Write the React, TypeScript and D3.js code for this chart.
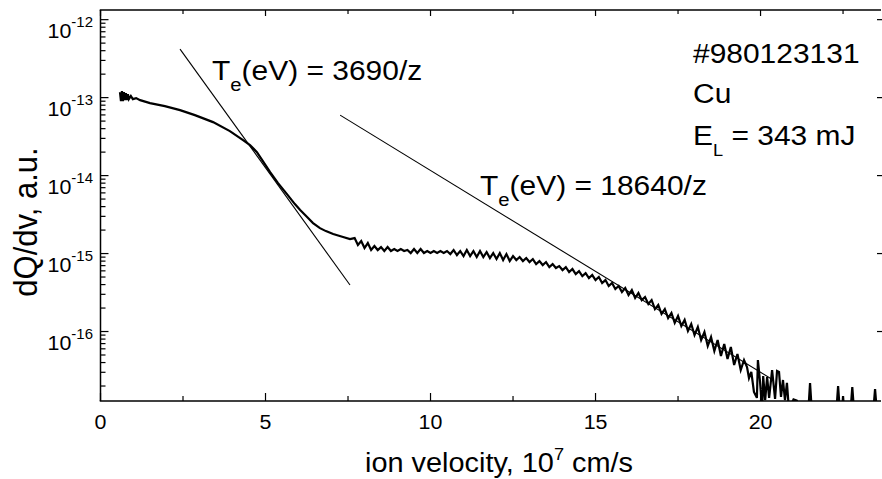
import React from "react";
import * as d3 from "d3";

// ion velocity, 10^7 cm/s
const velocity = [
  0.59, 0.62, 0.65, 0.68, 0.71, 0.74, 0.77, 0.8, 0.83, 0.86, 0.92, 0.98, 1.08, 1.2, 1.5, 1.95,
  2.41, 2.86, 3.41, 3.92, 4.32, 4.53, 4.74, 4.92, 5.14, 5.38, 5.65, 5.89, 6.05, 6.26, 6.44, 6.65,
  6.83, 7.05, 7.35, 7.56,
  7.7, 7.8, 7.9, 8.0, 8.1, 8.2, 8.3, 8.4, 8.5, 8.6, 8.7, 8.8, 8.9, 9.0, 9.1, 9.2, 9.3, 9.4, 9.5,
  9.6, 9.7, 9.8, 9.9, 10.0, 10.1, 10.2, 10.3, 10.4, 10.5, 10.6, 10.7, 10.8, 10.9, 11.0, 11.1, 11.2,
  11.3, 11.4, 11.5, 11.6, 11.7, 11.8, 11.9, 12.0, 12.1, 12.2, 12.3, 12.4, 12.5, 12.6, 12.7, 12.8,
  12.9, 13.0, 13.1, 13.2, 13.3, 13.4, 13.5, 13.6, 13.7, 13.8, 13.9, 14.0, 14.1, 14.2, 14.3, 14.4,
  14.5, 14.6, 14.7, 14.8, 14.9, 15.0, 15.1, 15.2, 15.3, 15.4, 15.5, 15.6, 15.7, 15.8, 15.9, 16.0,
  16.1, 16.2, 16.3, 16.4, 16.5, 16.6, 16.7, 16.8, 16.9, 17.0, 17.1, 17.2, 17.3, 17.4, 17.5, 17.6,
  17.7, 17.8, 17.9, 18.0, 18.1, 18.2, 18.3, 18.4, 18.5, 18.6, 18.7, 18.8, 18.9, 19.0, 19.1, 19.2,
  19.3, 19.4, 19.5,
  19.59, 19.65, 19.72, 19.8, 19.89, 19.92, 19.98, 20.05, 20.08, 20.14, 20.2, 20.26, 20.35, 20.44,
  20.5, 20.56, 20.62, 20.68, 20.74, 20.8, 20.86, 21.0, 21.1, 21.2,
  21.45, 21.5, 21.55, 22.3, 22.35, 22.4, 22.47, 22.5, 22.53, 22.73, 22.78, 22.83, 23.42, 23.47,
  23.52, 23.65,
];

// dQ/dv, a.u.
const dQdv = [
  1.18e-13, 9.02e-14, 1.21e-13, 9.02e-14, 1.18e-13, 9.29e-14, 1.14e-13, 9.29e-14, 1.11e-13,
  9.57e-14, 1.05e-13, 9.57e-14, 9.85e-14, 9.29e-14, 8.5e-14, 7.78e-14,
  6.91e-14, 5.96e-14, 4.85e-14, 3.72e-14, 2.85e-14, 2.46e-14, 2.0e-14, 1.53e-14, 1.11e-14, 8.01e-15,
  5.79e-15, 4.31e-15, 3.61e-15, 2.94e-15, 2.46e-15, 2.12e-15, 1.94e-15, 1.78e-15, 1.63e-15, 1.53e-15,
  1.58e-15, 1.285e-15, 1.446e-15, 1.176e-15, 1.363e-15, 1.109e-15, 1.248e-15, 1.109e-15, 1.211e-15,
  1.077e-15, 1.211e-15, 1.077e-15, 1.142e-15, 1.077e-15, 1.142e-15, 1.077e-15, 1.109e-15, 1.015e-15,
  1.142e-15, 1.015e-15, 1.142e-15, 1.015e-15, 1.077e-15, 1.015e-15, 1.077e-15, 1.015e-15, 1.077e-15,
  1.015e-15, 1.077e-15, 9.85e-16, 1.109e-15, 9.57e-16, 1.077e-15, 9.29e-16, 1.109e-15, 9.29e-16,
  1.077e-15, 9.02e-16, 1.077e-15, 9.02e-16, 1.045e-15, 8.76e-16, 1.015e-15, 8.5e-16, 1.015e-15,
  8.25e-16, 9.85e-16, 8.01e-16, 9.29e-16, 8.25e-16, 9.02e-16, 8.01e-16, 8.76e-16, 7.78e-16, 8.5e-16,
  7.33e-16, 8.01e-16, 7.12e-16, 7.78e-16, 6.71e-16, 7.33e-16, 6.52e-16, 6.91e-16, 6.14e-16, 6.71e-16,
  5.79e-16, 6.33e-16, 5.46e-16, 5.96e-16, 5.15e-16, 5.62e-16, 4.85e-16, 5.3e-16, 4.57e-16, 5.0e-16,
  4.19e-16, 4.57e-16, 3.83e-16, 4.19e-16, 3.51e-16, 3.83e-16, 3.21e-16, 3.61e-16, 2.94e-16, 3.4e-16,
  2.69e-16, 3.12e-16, 2.53e-16, 2.77e-16, 2.25e-16, 2.53e-16, 1.94e-16, 2.19e-16, 1.68e-16, 1.94e-16,
  1.49e-16, 1.73e-16, 1.29e-16, 1.58e-16, 1.18e-16, 1.41e-16, 1.015e-16, 1.25e-16, 9.02e-17,
  1.14e-16, 7.78e-17, 9.85e-17, 6.52e-17, 8.5e-17, 5.62e-17, 7.78e-17, 4.85e-17, 6.91e-17, 4.44e-17,
  6.33e-17, 3.72e-17, 5.15e-17, 3.21e-17, 4.31e-17,
  3.51e-17, 2.53e-17, 3.03e-17, 1.68e-17, 1.41e-17, 4.31e-17, 2.39e-17, 1.0e-17, 2.69e-17, 1.32e-17,
  2.61e-17, 1.41e-17, 3.21e-17, 1.37e-17, 3.12e-17, 3.03e-17, 1.45e-17, 2.39e-17, 1.32e-17,
  2.19e-17, 1.0e-17, 1.35e-17, 1.3e-17, 1.0e-17,
  1.0e-17, 2.19e-17, 1.0e-17, 1.0e-17, 2.0e-17, 1.0e-17, 1.0e-17, 1.49e-17, 1.0e-17, 1.0e-17,
  1.94e-17, 1.0e-17, 1.0e-17, 1.83e-17, 1.0e-17, 1.0e-17,
];

// fitted exponential slopes
const fitLowV = [2.41, 7.56];
const fitLowQ = [4.19e-13, 3.95e-16];
const fitHighV = [7.26, 20.38];
const fitHighQ = [5.96e-14, 2.39e-17];

const xMajorTicks = [0, 5, 10, 15, 20];
const xTickLabels = ["0", "5", "10", "15", "20"];
const xMinorTicks = [2.5, 7.5, 12.5, 17.5, 22.5];
const yMajorTicks = [1e-12, 1e-13, 1e-14, 1e-15, 1e-16];
const yTickExponents = ["-12", "-13", "-14", "-15", "-16"];
const yMinorDecades = [1e-17, 1e-16, 1e-15, 1e-14, 1e-13];
const yMinorMantissas = [2, 3, 4, 5, 6, 7, 8, 9];

const FONT = "'Liberation Sans', Arial, Helvetica, sans-serif";
const SX = 1.07; // horizontal stretch of the original figure

export default function App() {
  const W = 882;
  const H = 479;
  const left = 100.5;
  const right = 881;
  const top = 10;
  const bottom = 401;

  const x = d3.scaleLinear().domain([0, 23.65]).range([left, right]);
  const y = d3.scaleLog().domain([1.285e-17, 1.33e-12]).range([bottom, top]);

  const pts: [number, number][] = velocity.map((v, i) => [v, dQdv[i]]);
  const line = d3
    .line<[number, number]>()
    .x((d) => x(d[0]))
    .y((d) => y(d[1]));
  const dataPath = line(pts) || "";
  const fit1 = line(fitLowV.map((v, i) => [v, fitLowQ[i]] as [number, number])) || "";
  const fit2 = line(fitHighV.map((v, i) => [v, fitHighQ[i]] as [number, number])) || "";

  const [yMin, yMax] = y.domain();
  const yMinor: number[] = [];
  yMinorDecades.forEach((d) =>
    yMinorMantissas.forEach((m) => {
      const v = m * d;
      if (v >= yMin && v <= yMax) yMinor.push(v);
    })
  );

  const at = (tx: number, ty: number) => `translate(${tx},${ty}) scale(${SX},1)`;

  return (
    <svg
      width={W}
      height={H}
      style={{ position: "absolute", left: 0, top: 0, background: "#fff" }}
      fontFamily={FONT}
    >
      <defs>
        <clipPath id="plotclip">
          <rect x={left} y={top} width={right - left} height={bottom - top} />
        </clipPath>
      </defs>
      <rect x={0} y={0} width={W} height={H} fill="#fff" />

      {/* fit lines */}
      <path d={fit1} stroke="#000" strokeWidth={1.1} fill="none" />
      <path d={fit2} stroke="#000" strokeWidth={1.1} fill="none" />

      {/* data */}
      <g clipPath="url(#plotclip)">
        <path d={dataPath} stroke="#000" strokeWidth={2.2} fill="none" strokeLinejoin="miter" />
      </g>

      {/* frame */}
      <g stroke="#000" strokeWidth={1.5} fill="none">
        <line x1={left} x2={left} y1={top} y2={bottom} />
        <line x1={left - 0.75} x2={right} y1={bottom} y2={bottom} />
        <line x1={left - 0.75} x2={right} y1={top} y2={top} />
      </g>

      {/* ticks */}
      <g stroke="#000" strokeWidth={1.2}>
        {xMajorTicks.map((t) => (
          <g key={"xM" + t}>
            <line x1={x(t)} x2={x(t)} y1={bottom} y2={bottom - 8} />
            <line x1={x(t)} x2={x(t)} y1={top} y2={top + 6} />
          </g>
        ))}
        {xMinorTicks.map((t) => (
          <g key={"xm" + t}>
            <line x1={x(t)} x2={x(t)} y1={bottom} y2={bottom - 5} />
            <line x1={x(t)} x2={x(t)} y1={top} y2={top + 4} />
          </g>
        ))}
        {yMajorTicks.map((t) => (
          <g key={"yM" + t}>
            <line x1={left} x2={left + 8} y1={y(t)} y2={y(t)} />
            <line x1={right - 4} x2={right + 1} y1={y(t)} y2={y(t)} />
          </g>
        ))}
        {yMinor.map((t) => (
          <line key={"ym" + t} x1={left} x2={left + 5} y1={y(t)} y2={y(t)} />
        ))}
      </g>

      {/* x tick labels */}
      {xMajorTicks.map((t, i) => (
        <text key={"xl" + t} transform={at(x(t), 429)} fontSize={20} textAnchor="middle" fill="#000">
          {xTickLabels[i]}
        </text>
      ))}

      {/* y tick labels */}
      {yMajorTicks.map((t, i) => (
        <text key={"yl" + t} transform={at(93, y(t) + 18)} fontSize={20} textAnchor="end" fill="#000">
          10
          <tspan dy={-11} fontSize={14}>
            {yTickExponents[i]}
          </tspan>
        </text>
      ))}

      {/* axis titles */}
      <text transform={at(365, 472)} fontSize={27} fill="#000">
        ion velocity, 10
        <tspan dy={-12} fontSize={17}>
          7
        </tspan>
        <tspan dy={12}> cm/s</tspan>
      </text>
      <text
        transform={`translate(37,222) scale(${SX},1) rotate(-90)`}
        fontSize={31}
        textAnchor="middle"
        fill="#000"
      >
        dQ/dv, a.u.
      </text>

      {/* annotations */}
      <text transform={at(212, 80)} fontSize={28} fill="#000">
        T
        <tspan dy={11} fontSize={19}>
          e
        </tspan>
        <tspan dy={-11}>(eV) = 3690/z</tspan>
      </text>
      <text transform={at(480, 195)} fontSize={28} fill="#000">
        T
        <tspan dy={11} fontSize={19}>
          e
        </tspan>
        <tspan dy={-11}>(eV) = 18640/z</tspan>
      </text>
      <text transform={at(693, 63)} fontSize={28} fill="#000">
        #980123131
      </text>
      <text transform={at(693, 103)} fontSize={28} fill="#000">
        Cu
      </text>
      <text transform={at(693, 145)} fontSize={28} fill="#000">
        E
        <tspan dy={11} fontSize={17}>
          L
        </tspan>
        <tspan dy={-11}> = 343 mJ</tspan>
      </text>
    </svg>
  );
}
